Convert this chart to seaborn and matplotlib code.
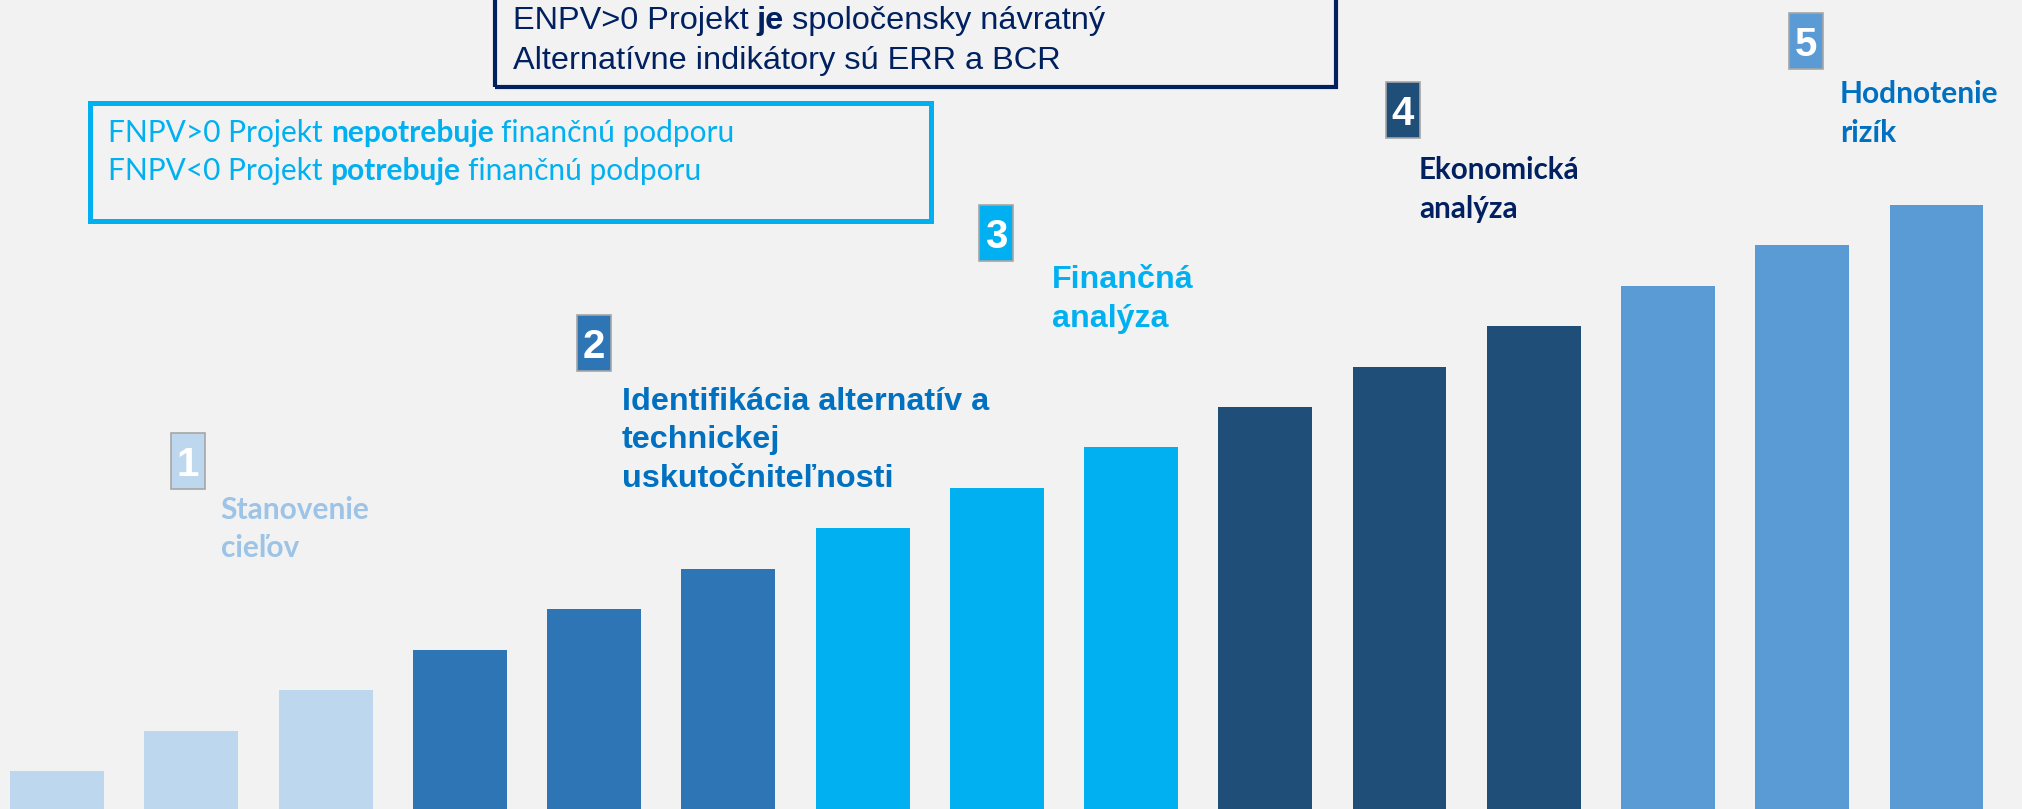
import seaborn as sns
import matplotlib.pyplot as plt
from matplotlib.patches import Rectangle
import pandas as pd

# stupne schodov (15 stlpcov, 5 faz po 3)
steps = [str(i) for i in range(1, 16)]
heights = [1, 2, 3, 4, 5, 6, 7, 8, 9, 10, 11, 12, 13, 14, 15]
phase = ['1', '1', '1', '2', '2', '2', '3', '3', '3', '4', '4', '4', '5', '5', '5']
phase_colors = {'1': '#BDD7EE', '2': '#2E75B6', '3': '#00B0F0', '4': '#1F4E79', '5': '#5B9BD5'}

phase_titles = ['Stanovenie\ncieľov',
                'Identifikácia alternatív a\ntechnickej\nuskutočniteľnosti',
                'Finančná\nanalýza',
                'Ekonomická\nanalýza',
                'Hodnotenie\nrizík']
title_colors = ['#9DC3E6', '#0070C0', '#00B0F0', '#002060', '#0070C0']

fnpv_lines = [[('FNPV>0 Projekt', 'normal'), ('nepotrebuje', 'bold'), ('finančnú podporu', 'normal')],
              [('FNPV<0 Projekt', 'normal'), ('potrebuje', 'bold'), ('finančnú podporu', 'normal')]]
enpv_lines = [[('ENPV>0 Projekt', 'normal'), ('je', 'bold'), ('spoločensky návratný', 'normal')],
              [('Alternatívne indikátory sú ERR a BCR', 'normal')]]

df = pd.DataFrame({'krok': steps, 'hodnota': heights, 'faza': phase})

W, H = 2022, 809
BG = '#F2F2F2'
ARIAL = ['Liberation Sans', 'DejaVu Sans']
CALIBRI = ['Lato', 'DejaVu Sans']
NARROW = ['Liberation Sans Narrow', 'Liberation Sans', 'DejaVu Sans']

sns.set_style('white')
fig = plt.figure(figsize=(W / 100, H / 100), dpi=100, facecolor=BG)
ax = fig.add_axes([0, 0, 1, 1], facecolor=BG)

sns.barplot(data=df, x='krok', y='hodnota', hue='faza', palette=phase_colors,
            dodge=False, legend=False, width=0.7, saturation=1, linewidth=0,
            edgecolor='none', ax=ax)
ax.set_xlim(-0.425, 14.637)
ax.set_ylim(0.062, 20.06)
ax.axis('off')


def fx(x):
    return x / W


def fy(y):
    return 1 - y / H


def frame(x0, y0, x1, y1, **kw):
    fig.add_artist(Rectangle((fx(x0), fy(y1)), (x1 - x0) / W, (y1 - y0) / H,
                             transform=fig.transFigure, **kw))


def rich_line(x, y, parts, size, color, family):
    txt, wt = parts[0]
    prev = fig.text(fx(x), fy(y), txt, fontsize=size, color=color, family=family,
                    fontweight=wt, va='baseline', ha='left')
    for txt, wt in parts[1:]:
        prev = ax.annotate(txt, xy=(1, 0), xycoords=prev, xytext=(size * 0.26, 0),
                           textcoords='offset points', va='bottom', ha='left',
                           fontsize=size, color=color, family=family, fontweight=wt,
                           annotation_clip=False)


# ramiky s textom
frame(495.3, -20, 1336, 87.2, fill=False, edgecolor='#002060', linewidth=3.0)
for i, parts in enumerate(enpv_lines):
    rich_line(512.7, 29.3 + 40 * i, parts, 23.4, '#002060', ARIAL)

frame(89.8, 102.5, 931, 220.5, fill=False, edgecolor='#00B0F0', linewidth=3.6)
for i, parts in enumerate(fnpv_lines):
    rich_line(108.3, 141.7 + 38.3 * i, parts, 21.5, '#00B0F0', CALIBRI)

# cisla faz v stvorcekoch
num_boxes = [(171, 433), (577, 315), (979, 205), (1386, 82), (1789, 13)]
for k, (bx, by) in enumerate(num_boxes):
    frame(bx, by, bx + 34, by + 56, facecolor=phase_colors[str(k + 1)],
          edgecolor='#A6A6A6', linewidth=1.2)
    fig.text(fx(bx + 17), fy(by + 28 + 15), str(k + 1), fontsize=29, color='white',
             fontweight='bold', family=NARROW, ha='center', va='baseline')

# nazvy faz
title_pos = [(220.5, 519), (622, 410), (1051.7, 288.3), (1419, 179.3), (1840, 103.3)]
title_font = [CALIBRI, ARIAL, ARIAL, CALIBRI, CALIBRI]
title_size = [21.5, 23.3, 23.2, 21.3, 21.5]
for k, (tx, ty) in enumerate(title_pos):
    step = 38.4
    for j, line in enumerate(phase_titles[k].split('\n')):
        fig.text(fx(tx), fy(ty + step * j), line, fontsize=title_size[k],
                 color=title_colors[k], fontweight='bold', family=title_font[k],
                 ha='left', va='baseline')

plt.savefig('out.png', dpi=100, facecolor=BG)
